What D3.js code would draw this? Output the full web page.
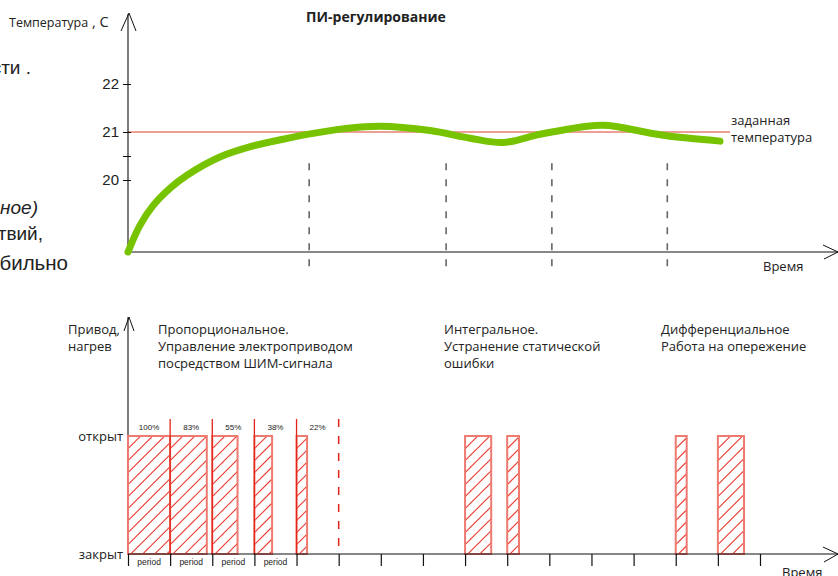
<!DOCTYPE html>
<html><head><meta charset="utf-8">
<script src="https://cdn.jsdelivr.net/npm/d3@7"></script>
<style>
body{margin:0;background:#fff;}
svg{display:block;}
text{font-family:"Open Sans",sans-serif;fill:#222;}
</style></head><body>
<svg id="c" width="838" height="576"></svg>
<script>
// ---------- data ----------
const tempTicks = [20, 20.5, 21, 22];
const tempLabels = {20:"20", 21:"21", 22:"22"};
const setpoint = 21;
const setpointEnd = 14.29;
const curveTime = [0, 0.28, 0.59, 1.0, 1.4, 2.18, 2.97, 3.68, 4.32, 5.14, 5.98, 7.17, 8.12, 8.9, 9.71, 10.06, 11.27, 12.32, 12.86, 14.05];
const curveTemp = [18.5, 19.05, 19.46, 19.83, 20.1, 20.48, 20.71, 20.85, 20.96, 21.07, 21.12, 21.03, 20.87, 20.78, 20.94, 21.0, 21.14, 20.99, 20.91, 20.81];
const phaseMarks = [4.3, 7.55, 10.06, 12.8];
const pwmStart = [0, 1, 2, 3, 4];
const pwmWidth = [1.0, 0.87, 0.6, 0.42, 0.25];
const pwmLabels = ["100%", "83%", "55%", "38%", "22%"];
const periodLabels = ["period", "period", "period", "period"];
const pwmDividers = [1, 2, 3, 4];
const pwmEnd = 5;
const integralStart = [8, 9];
const integralWidth = [0.62, 0.28];
const diffStart = [13, 14];
const diffWidth = [0.26, 0.62];
const timeTicks = d3.range(0, 16);
const stateValues = [0, 1];
const stateLabels = ["закрыт", "открыт"];

// ---------- setup ----------
const svg = d3.select("#c");
const x = d3.scaleLinear().domain([0, 15]).range([128, 760]);
const yT = d3.scaleLinear().domain([20, 22]).range([180, 84]);
const yS = d3.scaleLinear().domain([0, 1]).range([554, 436]);
const xEnd = 838;
const yTbase = yT(18.5);

// ---------- left clipped text (neighbouring slide) ----------
const lt = svg.append("g");
const lf = "'Liberation Sans',Arial,sans-serif";
lt.append("text").attr("x", 31).attr("y", 74).attr("text-anchor", "end").style("font-family", lf).style("font-size", "19px").text("сти .");
lt.append("text").attr("x", 38).attr("y", 214).attr("text-anchor", "end").style("font-style", "italic").style("font-family", lf).style("font-size", "19px").text("ное)");
lt.append("text").attr("x", 43).attr("y", 240).attr("text-anchor", "end").style("font-family", lf).style("font-size", "19px").text("твий,");
lt.append("text").attr("x", 68).attr("y", 270).attr("text-anchor", "end").style("font-family", lf).style("font-size", "20.5px").text("бильно");

// ---------- top chart ----------
const gTop = svg.append("g");
gTop.append("text").attr("x", 376).attr("y", 22).attr("text-anchor", "middle")
  .style("font-weight", "bold").style("font-size", "14px").text("ПИ-регулирование");
const yl = gTop.append("text").attr("x", 9).attr("y", 27).style("font-size", "12.5px").text("Температура");
yl.append("tspan").style("font-size", "14.5px").text("  , С");

gTop.append("line").attr("x1", x(0)).attr("x2", x(setpointEnd))
  .attr("y1", yT(setpoint)).attr("y2", yT(setpoint))
  .attr("stroke", "#d9402b").attr("stroke-width", 1.1);

gTop.selectAll(".pm").data(phaseMarks).join("line").attr("class", "pm")
  .attr("x1", d => x(d)).attr("x2", d => x(d))
  .attr("y1", yT(20.35)).attr("y2", yTbase + 20)
  .attr("stroke", "#666").attr("stroke-width", 1.6).attr("stroke-dasharray", "7,9");

const yAx = gTop.append("g").attr("transform", `translate(${x(0)},0)`)
  .call(d3.axisLeft(yT).tickValues(tempTicks).tickSize(5).tickPadding(4)
    .tickFormat(d => tempLabels[d] || ""));
yAx.select(".domain").remove();
yAx.selectAll("line").attr("stroke", "#111").attr("x2", -5).attr("x1", 3);
yAx.selectAll("text").style("font-family", lf).style("font-size", "15px").attr("fill", "#222");

gTop.append("line").attr("x1", x(0)).attr("x2", x(0)).attr("y1", yTbase).attr("y2", 14)
  .attr("stroke", "#111").attr("stroke-width", 1.1);
gTop.append("path").attr("d", `M${x(0)-7},31 L${x(0)+1},13 L${x(0)+8},31`).attr("fill", "none").attr("stroke", "#111").attr("stroke-width", 1);
gTop.append("line").attr("x1", x(0)).attr("x2", xEnd).attr("y1", yTbase).attr("y2", yTbase)
  .attr("stroke", "#111").attr("stroke-width", 1.2);
gTop.append("path").attr("d", `M${xEnd-15},${yTbase-7} L${xEnd},${yTbase} L${xEnd-14},${yTbase+7}`).attr("fill", "none").attr("stroke", "#111").attr("stroke-width", 1);

const pts = curveTime.map((t, i) => [t, curveTemp[i]]);
gTop.append("path").datum(pts)
  .attr("d", d3.line().x(d => x(d[0])).y(d => yT(d[1])).curve(d3.curveCatmullRom.alpha(0.5)))
  .attr("fill", "none").attr("stroke", "#77c300").attr("stroke-width", 7).attr("stroke-linecap", "round");

gTop.append("text").attr("x", 731).attr("y", 125).style("font-size", "13px").text("заданная");
gTop.append("text").attr("x", 731).attr("y", 142).style("font-size", "13px").text("температура");
gTop.append("text").attr("x", 763).attr("y", 271).style("font-size", "13px").text("Время");

// ---------- bottom chart ----------
const bot = svg.append("g");
bot.append("line").attr("x1", x(0)).attr("x2", x(0)).attr("y1", yS(0)).attr("y2", 317)
  .attr("stroke", "#111").attr("stroke-width", 1.1);
bot.append("path").attr("d", `M${x(0)-4},331 L${x(0)+1},317 L${x(0)+6},331`).attr("fill", "none").attr("stroke", "#111").attr("stroke-width", 1);

bot.selectAll(".st").data(stateValues).join("text").attr("class", "st")
  .attr("x", x(0) - 5).attr("y", d => yS(d) + 5).attr("text-anchor", "end")
  .style("font-size", "13px").text((d, i) => stateLabels[i]);

// hatched bars: hatch segments clipped analytically to each bar
const hatchStep = 12;
function bars(starts, widths) {
  starts.forEach((s, i) => {
    const x0 = x(s), x1 = x(s + widths[i]), y0 = yS(1), y1 = yS(0), h = y1 - y0;
    const segs = [];
    for (let a = x0 - h + 0.35; a < x1; a += hatchStep) {
      const t0 = Math.max(0, x0 - a), t1 = Math.min(h, x1 - a);
      if (t1 > t0) segs.push([a + t0, y1 - t0 + 0.35, a + t1, y1 - t1 + 0.35]);
    }
    const g = bot.append("g");
    g.append("rect").attr("x", x0).attr("y", y0).attr("width", x1 - x0).attr("height", h).style("fill", "#ffffff");
    g.selectAll("line").data(segs).join("line")
      .attr("x1", d => d[0]).attr("y1", d => d[1]).attr("x2", d => d[2]).attr("y2", d => d[3])
      .style("stroke", "#ea3b30").style("stroke-width", "1.1");
    g.append("rect").attr("x", x0).attr("y", y0).attr("width", x1 - x0).attr("height", h)
      .style("fill", "none").style("stroke", "#ef7a70").style("stroke-width", "2");
  });
}
bars(pwmStart, pwmWidth);
bars(integralStart, integralWidth);
bars(diffStart, diffWidth);

bot.selectAll(".dv").data(pwmDividers).join("line").attr("class", "dv")
  .attr("x1", d => x(d)).attr("x2", d => x(d)).attr("y1", yS(1) - 17).attr("y2", yS(0))
  .style("stroke", "#e2231a").style("stroke-width", "1.3");
bot.append("line").attr("x1", x(pwmEnd)).attr("x2", x(pwmEnd)).attr("y1", yS(1) - 17).attr("y2", yS(0))
  .style("stroke", "#e2231a").style("stroke-width", "1.5").style("stroke-dasharray", "8,9");

// time axis
const xAx = bot.append("g").attr("transform", `translate(0,${yS(0)})`)
  .call(d3.axisBottom(x).tickValues(timeTicks).tickSize(12).tickFormat(""));
xAx.select(".domain").remove();
xAx.selectAll("line").attr("stroke", "#111").attr("stroke-width", 1.2);
bot.append("line").attr("x1", x(0)).attr("x2", xEnd).attr("y1", yS(0)).attr("y2", yS(0))
  .attr("stroke", "#111").attr("stroke-width", 1.2);
bot.append("path").attr("d", `M${xEnd-15},${yS(0)-7} L${xEnd},${yS(0)} L${xEnd-14},${yS(0)+8}`).attr("fill", "none").attr("stroke", "#111").attr("stroke-width", 1);

bot.selectAll(".pl").data(pwmStart).join("text").attr("class", "pl")
  .attr("x", d => x(d + 0.5)).attr("y", yS(1) - 6).attr("text-anchor", "middle")
  .style("font-family", lf).style("font-size", "8px").attr("fill", "#333")
  .text((d, i) => pwmLabels[i]);
bot.selectAll(".pd").data(periodLabels).join("text").attr("class", "pd")
  .attr("x", (d, i) => x(i + 0.5)).attr("y", yS(0) + 11).attr("text-anchor", "middle")
  .style("font-family", lf).style("font-size", "8.5px").attr("fill", "#333")
  .text(d => d);

function block(xp, lines, y0) {
  const t = bot.append("text").style("font-size", "13px");
  lines.forEach((l, i) => t.append("tspan").attr("x", xp).attr("y", y0 + i * 17).text(l));
}
block(68, ["Привод,", "нагрев"], 334);
block(158, ["Пропорциональное.", "Управление электроприводом", "посредством ШИМ-сигнала"], 334);
block(444, ["Интегральное.", "Устранение статической", "ошибки"], 334);
block(661, ["Дифференциальное", "Работа на опережение"], 334);
bot.append("text").attr("x", 782).attr("y", 577).style("font-size", "13px").text("Время");
</script>
</body></html>
